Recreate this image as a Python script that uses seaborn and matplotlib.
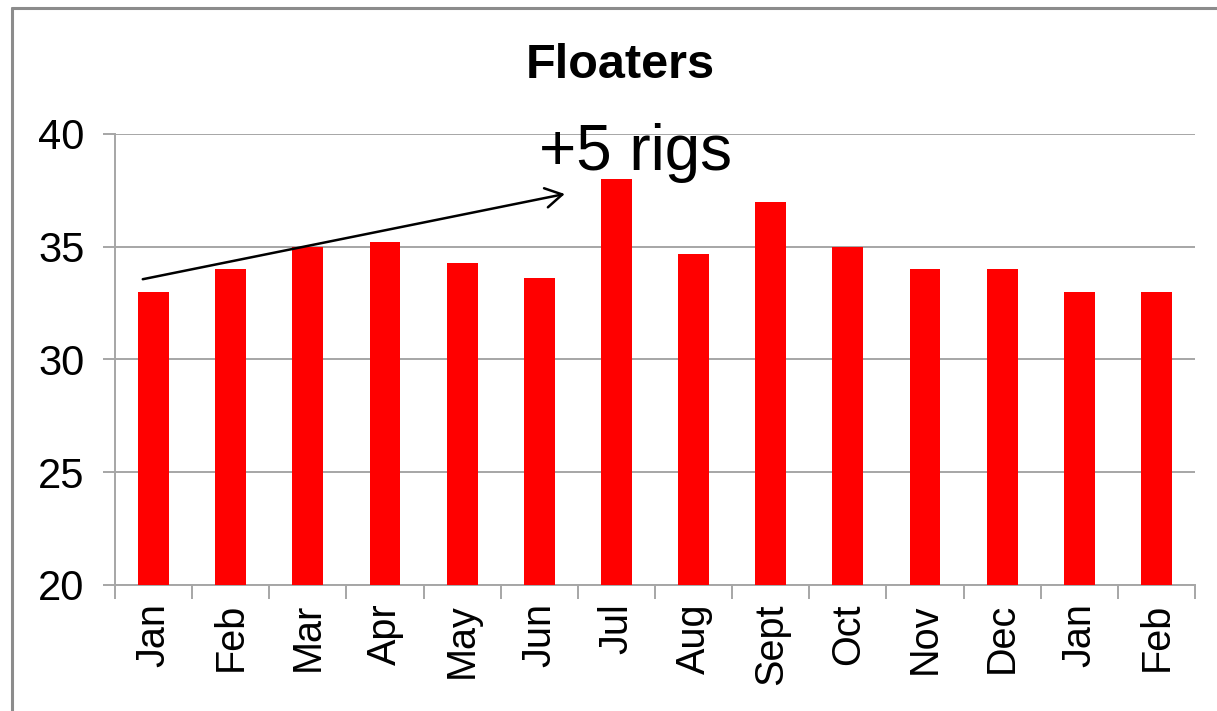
import numpy as np
import pandas as pd
import matplotlib
matplotlib.use("Agg")
import matplotlib.pyplot as plt
from matplotlib.lines import Line2D
import seaborn as sns

# Monthly floating rig counts
months = ["Jan", "Feb", "Mar", "Apr", "May", "Jun", "Jul",
          "Aug", "Sept", "Oct", "Nov", "Dec", "Jan", "Feb"]
floaters = [33.0, 34.0, 35.0, 35.2, 34.3, 33.6, 38.0,
            34.7, 37.0, 35.0, 34.0, 34.0, 33.0, 33.0]
y_ticks = [20, 25, 30, 35, 40]
title = "Floaters"
note = "+5 rigs"

sns.set_style("white")
plt.rcParams["font.family"] = ["Liberation Sans", "DejaVu Sans"]

GRID = "#A6A6A6"

fig = plt.figure(figsize=(12.17, 7.11), dpi=100)
ax = fig.add_axes([115 / 1217, 1 - 585 / 711, (1195 - 115) / 1217, (585 - 134) / 711])

df = pd.DataFrame({"slot": np.arange(len(months)), "rigs": floaters})
sns.barplot(data=df, x="slot", y="rigs", color="#FF0000", saturation=1,
            width=0.4, linewidth=0, ax=ax, zorder=3)

ax.set_xlim(-0.5, len(months) - 0.5)
ax.set_ylim(min(y_ticks), max(y_ticks))
ax.set_yticks(y_ticks)
ax.set_xticks(np.arange(len(months)))
ax.set_xticklabels(months, rotation=90)
ax.set_xticks(np.arange(-0.5, len(months), 1), minor=True)
ax.set_xlabel("")
ax.set_ylabel("")

ax.yaxis.grid(True, color=GRID, linewidth=1.4)
ax.xaxis.grid(False)
ax.set_axisbelow(True)

for side in ("top", "right"):
    ax.spines[side].set_visible(False)
for side in ("left", "bottom"):
    ax.spines[side].set_color(GRID)
    ax.spines[side].set_linewidth(1.4)

ax.tick_params(axis="y", which="major", left=True, length=9, width=1.4,
               color=GRID, direction="out", labelsize=30, pad=13,
               labelcolor="black")
ax.tick_params(axis="x", which="major", bottom=True, length=0,
               labelsize=28.5, pad=13, labelcolor="black")
ax.tick_params(axis="x", which="minor", bottom=True, length=10, width=1.4,
               color=GRID, direction="out")

# Rise annotation: arrow from the first January to July
ax.annotate("", xy=(5.33, 37.34), xytext=(-0.14, 33.56),
            arrowprops=dict(arrowstyle="->,head_length=0.6,head_width=0.35",
                            color="black", lw=1.8, mutation_scale=20,
                            shrinkA=0, shrinkB=0),
            zorder=5)
ax.text(5.0, 38.4, note, fontsize=46, ha="left", va="baseline",
        color="black", zorder=6)

fig.text(620 / 1217, 1 - 78 / 711, title, fontsize=35, fontweight="bold",
         ha="center", va="baseline", color="black")

# Outer frame (left and top edges)
frame_kw = dict(color="#8C8C8C", linewidth=2.2, transform=fig.transFigure)
fig.add_artist(Line2D([12 / 1217, 12 / 1217], [0, 1 - 8 / 711], **frame_kw))
fig.add_artist(Line2D([12 / 1217, 1], [1 - 8 / 711, 1 - 8 / 711], **frame_kw))

fig.savefig("out.png", dpi=100)
